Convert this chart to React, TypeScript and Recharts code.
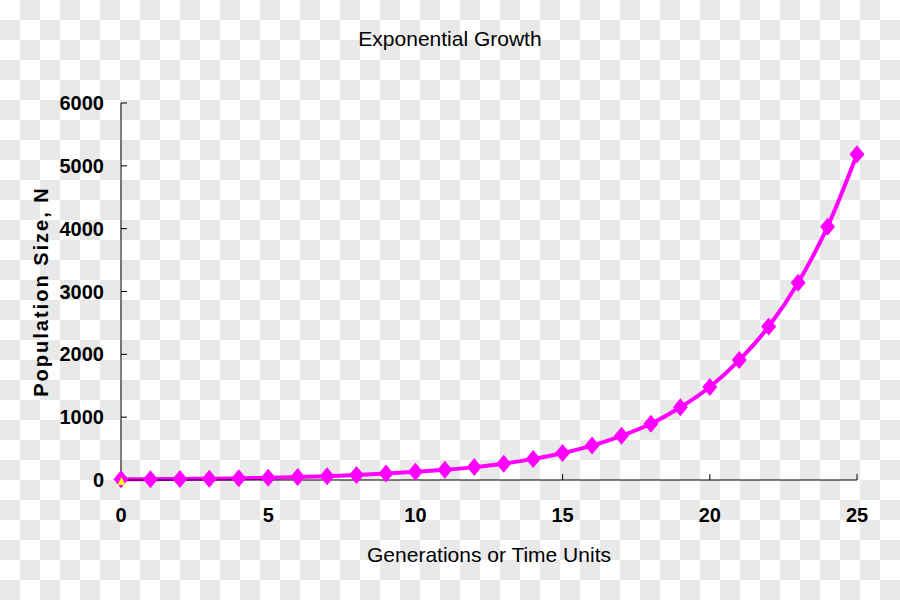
import React from 'react';
import { ComposedChart, Line, Scatter, XAxis, YAxis } from 'recharts';

const generations = [0, 1, 2, 3, 4, 5, 6, 7, 8, 9, 10, 11, 12, 13, 14, 15, 16, 17, 18, 19, 20, 21, 22, 23, 24, 25];
const population = [10, 13, 16, 21, 27, 36, 46, 60, 78, 102, 130, 162, 205, 260, 336, 430, 548, 703, 895, 1157, 1480, 1908, 2442, 3141, 4032, 5184];
const startGeneration = [0];
const startMarker = [0];
const xTicks = [0, 5, 10, 15, 20, 25];
const yTicks = [0, 1000, 2000, 3000, 4000, 5000, 6000];

const chartTitle = 'Exponential Growth';
const xTitle = 'Generations or Time Units';
const yTitle = 'Population Size, N';

const data = generations.map((t, i) => ({ t, n: population[i] }));
const startData = startGeneration.map((t, i) => ({ t, s: startMarker[i] }));

const FONT = '"Liberation Sans", Arial, sans-serif';
const MAGENTA = '#FF00FF';
const CHECKER = '#e9e9e9';

const Diamond = (props: any) => {
  const { cx, cy, index } = props;
  if (cx == null || cy == null) return null;
  return (
    <polygon
      key={`d-${index}`}
      points={`${cx},${cy - 9} ${cx + 7.5},${cy} ${cx},${cy + 9} ${cx - 7.5},${cy}`}
      fill={MAGENTA}
      stroke="none"
    />
  );
};

const Triangle = (props: any) => {
  const { cx, cy } = props;
  if (cx == null || cy == null) return null;
  return (
    <polygon
      points={`${cx + 0.5},${cy - 3} ${cx + 4.5},${cy + 5} ${cx - 3.5},${cy + 5}`}
      fill="#FFFF00"
      stroke="none"
    />
  );
};

const XLabel = (props: any) => {
  const vb = props.viewBox;
  return (
    <text
      x={vb.x + vb.width / 2}
      y={vb.y + 82}
      textAnchor="middle"
      fontFamily={FONT}
      fontSize={21}
      fill="#000"
    >
      {xTitle}
    </text>
  );
};

const YLabel = (props: any) => {
  const vb = props.viewBox;
  const x = 48;
  const y = vb.y + vb.height / 2;
  return (
    <text
      x={x}
      y={y}
      transform={`rotate(-90 ${x} ${y})`}
      textAnchor="middle"
      fontFamily={FONT}
      fontSize={20}
      fontWeight="bold"
      letterSpacing={2}
      fill="#000"
    >
      {yTitle}
    </text>
  );
};

const checkerCells: { r: number; c: number }[] = [];
for (let r = 0; r < 30; r++) {
  for (let c = 0; c < 45; c++) {
    if ((r + c) % 2 === 1) checkerCells.push({ r, c });
  }
}

export default function App() {
  return (
    <div style={{ position: 'absolute', left: 0, top: 0, width: 900, height: 600, backgroundColor: '#ffffff' }}>
      <svg width={900} height={600} style={{ position: 'absolute', left: 0, top: 0 }}>
        <rect x={0} y={0} width={900} height={600} fill="#ffffff" />
        {checkerCells.map(({ r, c }) => (
          <rect key={`${r}-${c}`} x={c * 20} y={r * 20} width={20} height={20} fill={CHECKER} />
        ))}
      </svg>
      <div
        style={{
          position: 'absolute',
          left: 0,
          top: 27,
          width: 900,
          textAlign: 'center',
          fontFamily: FONT,
          fontSize: 21,
          lineHeight: '24px',
          color: '#000',
        }}
      >
        {chartTitle}
      </div>
      <div style={{ position: 'absolute', left: 0, top: 0 }}>
        <ComposedChart
          width={900}
          height={600}
          data={data}
          margin={{ top: 103, right: 43, bottom: 60, left: 61 }}
        >
          <XAxis
            dataKey="t"
            type="number"
            domain={[0, 25]}
            ticks={xTicks}
            allowDecimals={false}
            height={60}
            axisLine={{ stroke: '#000', strokeWidth: 1 }}
            tickLine={{ stroke: '#000', strokeWidth: 1 }}
            tickSize={-6}
            tickMargin={34}
            tick={{ fill: '#000', fontFamily: FONT, fontSize: 20, fontWeight: 'bold' }}
            label={<XLabel />}
          />
          <YAxis
            type="number"
            domain={[0, 6000]}
            ticks={yTicks}
            width={60}
            axisLine={{ stroke: '#000', strokeWidth: 1 }}
            tickLine={{ stroke: '#000', strokeWidth: 1 }}
            tickSize={-6}
            tickMargin={23}
            tick={{ fill: '#000', fontFamily: FONT, fontSize: 20, fontWeight: 'bold' }}
            label={<YLabel />}
          />
          <Line
            dataKey="n"
            type="monotone"
            stroke={MAGENTA}
            strokeWidth={4}
            dot={Diamond}
            activeDot={false}
            isAnimationActive={false}
          />
          <Scatter
            data={startData}
            dataKey="s"
            shape={Triangle}
            isAnimationActive={false}
          />
        </ComposedChart>
      </div>
    </div>
  );
}
